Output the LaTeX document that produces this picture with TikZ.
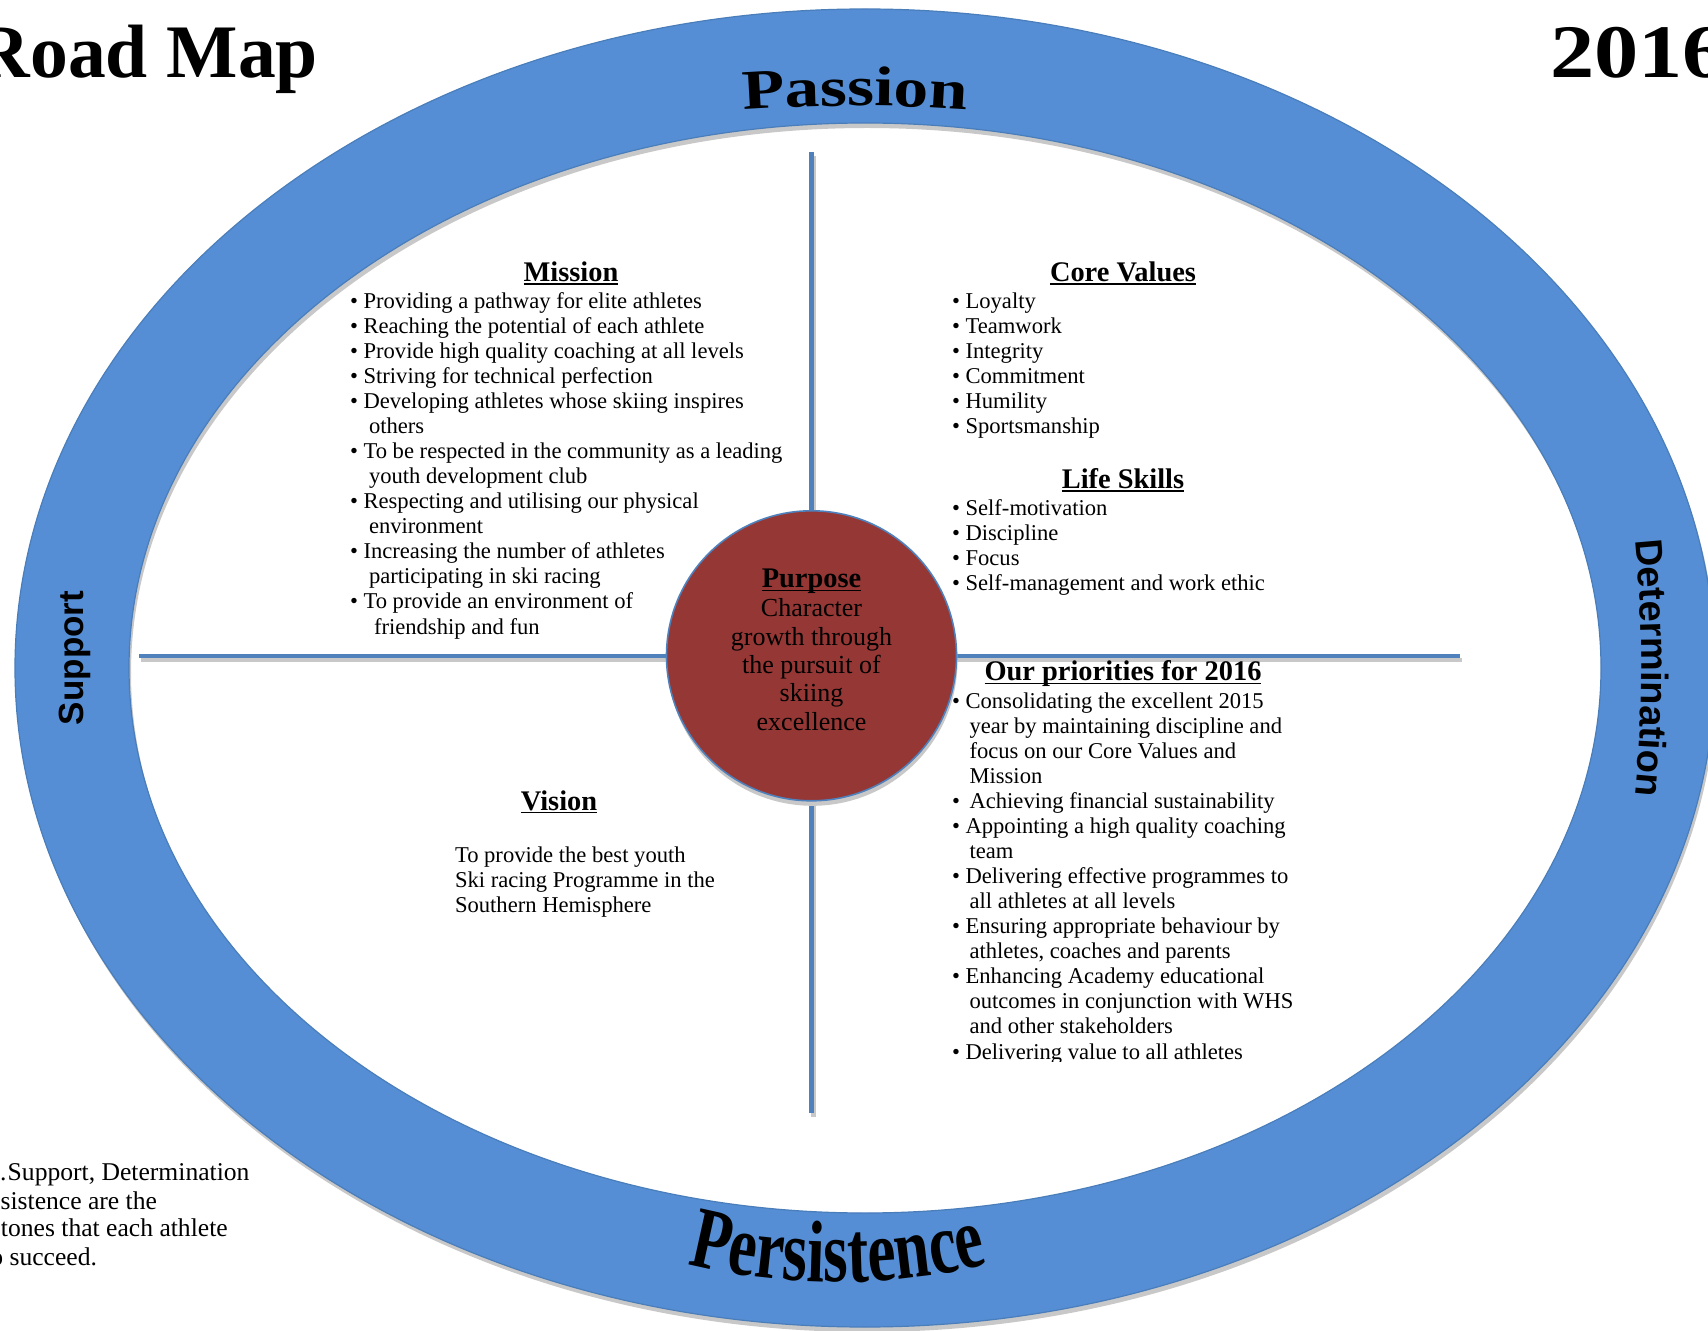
\documentclass[tikz,border=0pt]{standalone}
\usepackage{fontspec}
\usepackage{graphicx}
\setmainfont{Liberation Serif}
\setsansfont{Liberation Sans}
\newfontfamily\persface[FakeStretch=0.725]{Liberation Serif}
\newfontfamily\passface[FakeStretch=1.24]{Liberation Serif}
\newfontfamily\yearface[FakeStretch=1.17]{Liberation Serif}
\usetikzlibrary{decorations.text}
\definecolor{ringblue}{HTML}{558ED5}
\definecolor{ringedge}{HTML}{4A7EBB}
\definecolor{crossblue}{HTML}{4F81BD}
\definecolor{purposered}{HTML}{953735}
\definecolor{shadowgray}{HTML}{C8C8C8}
\newsavebox{\ulbox}
\newcommand{\ulhead}[1]{\sbox{\ulbox}{#1}\rlap{\rule[-1.6pt]{\wd\ulbox}{0.75pt}}\usebox{\ulbox}}
\newcommand{\passionfont}{\fontsize{28}{30}\passface\bfseries}
\newcommand{\persistfont}{\fontsize{43.8}{48}\persface\bfseries}
\newcommand{\sidefont}{\fontsize{19}{22}\sffamily\bfseries}
\tikzset{
  body/.style={font=\fontsize{11.3}{13}\selectfont, anchor=base west, inner sep=0pt, outer sep=0pt},
  note/.style={font=\fontsize{12.8}{14}\selectfont, anchor=base east, inner sep=0pt, outer sep=0pt},
  head/.style={font=\fontsize{14.2}{16}\selectfont\bfseries, anchor=base, inner sep=0pt, outer sep=0pt},
  purp/.style={font=\fontsize{13}{14}\selectfont, anchor=base, inner sep=0pt, outer sep=0pt},
  bigtitle/.style={font=\fontsize{37.8}{42}\selectfont\bfseries, inner sep=0pt, outer sep=0pt},
  crossline/.style={draw=crossblue, line width=2.2pt},
  crossshadow/.style={draw=shadowgray, line width=2.2pt},
}
\begin{document}
\begin{tikzpicture}[x=0.5pt,y=-0.5pt]
\useasboundingbox (0,0) rectangle (1708,1331);
\clip (0,0) rectangle (1708,1331);
\fill[white] (0,0) rectangle (1708,1331);

% ---- ring ----
\coordinate (rc) at (865,668);
\coordinate (rs) at (867,673);
\fill[fill=shadowgray,even odd rule] (rs) ellipse [x radius=850,y radius=659] (rs) ellipse [x radius=736,y radius=545];
\fill[fill=ringblue,even odd rule] (rc) ellipse [x radius=850,y radius=659] (rc) ellipse [x radius=736,y radius=545];
\draw[draw=ringedge,line width=0.6pt] (rc) ellipse [x radius=850,y radius=659];
\draw[draw=ringedge,line width=0.6pt] (rc) ellipse [x radius=736,y radius=545];

% ---- ring words ----
\path[decorate,decoration={text along path,text align=center,text={|\passionfont|Passion}}]
  (700,114) .. controls (780,103) and (930,103) .. (1010,114);
\path[decorate,decoration={text along path,text align=center,text={|\persistfont|Persistence}}]
  (668,1258) .. controls (770,1290) and (906,1290) .. (1008,1258);
\path[decorate,decoration={text along path,text align=center,text={|\sidefont|Determination}}]
  (1630,498) .. controls (1645,600) and (1645,736) .. (1630,838);
\node[font=\fontsize{17.5}{20}\sffamily\bfseries, rotate=90, anchor=base, inner sep=0pt] (support) at (83,658) {Support};

% ---- cross ----
\coordinate (vt) at (811.5,152);
\coordinate (vb) at (811.5,1113);
\coordinate (hl) at (139,655.8);
\coordinate (hr) at (1460,655.8);
\draw[crossshadow] ([shift={(2,4)}]vt) -- ([shift={(2,4)}]vb);
\draw[crossshadow] ([shift={(2,4)}]hl) -- ([shift={(2,4)}]hr);
\draw[crossline] (vt) -- (vb);
\draw[crossline] (hl) -- (hr);

% ---- purpose circle ----
\coordinate (cc) at (811.5,655.8);
\fill[fill=shadowgray] ([shift={(1,5)}]cc) circle [radius=145];
\node[circle, fill=purposered, draw=crossblue, line width=0.8pt, minimum size=145pt, inner sep=0pt] (purpose) at (cc) {};
\node[head] (purposeh) at (811.5,588) {\ulhead{Purpose}};
\node[purp] (p1) at (811.5,617) {Character};
\node[purp] (p2) at (811.5,645.7) {growth through};
\node[purp] (p3) at (811.5,674) {the pursuit of};
\node[purp] (p4) at (811.5,701.7) {skiing};
\node[purp] (p5) at (811.5,730) {excellence};

% ---- titles ----
\node[bigtitle, anchor=base east] (roadmap) at (318,78) {Road Map};
\node[bigtitle, anchor=base west] (year) at (1550,78) {\yearface 2016};

% ---- Mission ----
\node[head] (missionh) at (571,281.7) {\ulhead{Mission}};
\node[body] (m1) at (350,308.3) {\textbullet\ Providing a pathway for elite athletes};
\node[body] (m2) at (350,333.4) {\textbullet\ Reaching the potential of each athlete};
\node[body] (m3) at (350,358.4) {\textbullet\ Provide high quality coaching at all levels};
\node[body] (m4) at (350,383.5) {\textbullet\ Striving for technical perfection};
\node[body] (m5) at (350,408.5) {\textbullet\ Developing athletes whose skiing inspires};
\node[body] (m6) at (369,433.6) {others};
\node[body] (m7) at (350,458.6) {\textbullet\ To be respected in the community as a leading};
\node[body] (m8) at (369,483.7) {youth development club};
\node[body] (m9) at (350,508.7) {\textbullet\ Respecting and utilising our physical};
\node[body] (m10) at (369,533.8) {environment};
\node[body] (m11) at (350,558.8) {\textbullet\ Increasing the number of athletes};
\node[body] (m12) at (369,583.9) {participating in ski racing};
\node[body] (m13) at (350,608.9) {\textbullet\ To provide an environment of};
\node[body] (m14) at (374,634) {friendship and fun};

% ---- Core Values ----
\node[head] (coreh) at (1123,281.7) {\ulhead{Core Values}};
\node[body] (c1) at (952,308.3) {\textbullet\ Loyalty};
\node[body] (c2) at (952,333.4) {\textbullet\ Teamwork};
\node[body] (c3) at (952,358.4) {\textbullet\ Integrity};
\node[body] (c4) at (952,383.5) {\textbullet\ Commitment};
\node[body] (c5) at (952,408.5) {\textbullet\ Humility};
\node[body] (c6) at (952,433.6) {\textbullet\ Sportsmanship};

% ---- Life Skills ----
\node[head] (lifeh) at (1123,488.7) {\ulhead{Life Skills}};
\node[body] (l1) at (952,515.3) {\textbullet\ Self-motivation};
\node[body] (l2) at (952,540.4) {\textbullet\ Discipline};
\node[body] (l3) at (952,565.4) {\textbullet\ Focus};
\node[body] (l4) at (952,590.5) {\textbullet\ Self-management and work ethic};

% ---- Priorities ----
\node[head] (prih) at (1123,681) {\ulhead{Our priorities for 2016}};
\begin{scope}
\clip (900,690) rectangle (1400,1061);
\node[body] (q1) at (952,708.3) {\textbullet\ Consolidating the excellent 2015};
\node[body] (q2) at (969.5,733.3) {year by maintaining discipline and};
\node[body] (q3) at (969.5,758.4) {focus on our Core Values and};
\node[body] (q4) at (969.5,783.4) {Mission};
\node[body] (q5) at (952,808.5) {\textbullet\ \hspace{2pt}Achieving financial sustainability};
\node[body] (q6) at (952,833.5) {\textbullet\ Appointing a high quality coaching};
\node[body] (q7) at (969.5,858.6) {team};
\node[body] (q8) at (952,883.6) {\textbullet\ Delivering effective programmes to};
\node[body] (q9) at (969.5,908.7) {all athletes at all levels};
\node[body] (q10) at (952,933.7) {\textbullet\ Ensuring appropriate behaviour by};
\node[body] (q11) at (969.5,958.8) {athletes, coaches and parents};
\node[body] (q12) at (952,983.8) {\textbullet\ Enhancing Academy educational};
\node[body] (q13) at (969.5,1008.9) {outcomes in conjunction with WHS};
\node[body] (q14) at (969.5,1033.9) {and other stakeholders};
\node[body] (q15) at (952,1059) {\textbullet\ Delivering value to all athletes};
\end{scope}

% ---- Vision ----
\node[head] (visionh) at (559,810) {\ulhead{Vision}};
\node[body] (v1) at (455,862) {To provide the best youth};
\node[body] (v2) at (455,887) {Ski racing Programme in the};
\node[body] (v3) at (455,912) {Southern Hemisphere};

% ---- bottom-left note ----
\node[note] (n1) at (249.5,1180.7) {.\hspace{0.6pt}Support, Determination};
\node[note] (n2) at (157,1209) {sistence are the};
\node[note] (n3) at (227.7,1236.7) {tones that each athlete};
\node[note] (n4) at (97,1265) {o succeed.};
\end{tikzpicture}
\end{document}
